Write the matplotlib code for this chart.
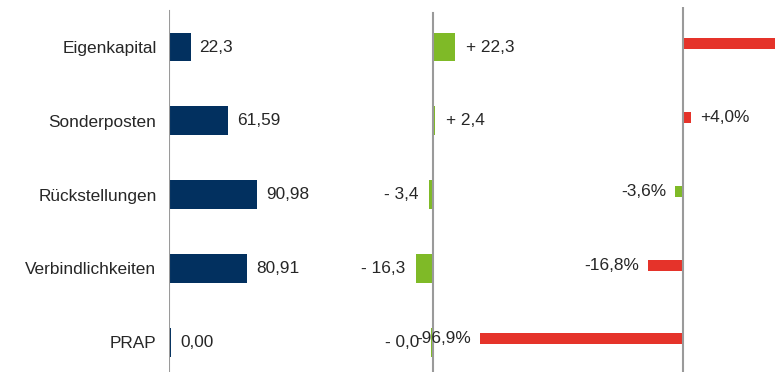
import matplotlib.pyplot as plt

plt.rcParams['font.family'] = ['Liberation Sans', 'DejaVu Sans']

# Passiva: Bestand, Veraenderung absolut und prozentual
kategorien = ["Eigenkapital", "Sonderposten", "Rückstellungen", "Verbindlichkeiten", "PRAP"]
bestand = [22.3, 61.59, 90.98, 80.91, 0.00]
bestand_txt = ["22,3", "61,59", "90,98", "80,91", "0,00"]
veraenderung = [22.3, 2.4, -3.4, -16.3, -0.04]
veraenderung_txt = ["+ 22,3", "+ 2,4", "- 3,4", "- 16,3", "- 0,0"]
prozent = [100.0, 4.0, -3.6, -16.8, -96.9]
prozent_txt = ["", "+4,0%", "-3,6%", "-16,8%", "-96,9%"]

NAVY = "#02305f"
GRUEN = "#7fba27"
ROT = "#e5332a"
ACHSE = "#9a9a9a"
TEXT = "#262626"
FS = 12.4

W, H = 775, 372
fig = plt.figure(figsize=(W / 100, H / 100), dpi=100)

# Zeilenraster in Pixeln
y_top, y_bot = 7, 372
row0, step = 47, 73.8
ylim = (4 + (y_bot - (row0 + 4 * step)) / step, -(row0 - y_top) / step)


def achsen(x0, x1, null_px, px_pro_einheit):
    ax = fig.add_axes([x0 / W, 1 - y_bot / H, (x1 - x0) / W, (y_bot - y_top) / H])
    ax.set_xlim(-(null_px - x0) / px_pro_einheit, (x1 - null_px) / px_pro_einheit)
    ax.set_ylim(*ylim)
    ax.patch.set_visible(False)
    for s in ax.spines.values():
        s.set_visible(False)
    ax.set_xticks([])
    ax.set_yticks([])
    return ax


def breiten(werte, px_pro_einheit, min_px=2):
    # sehr kleine Werte mit Mindestbreite, damit der Balken sichtbar bleibt
    out = []
    for v in werte:
        b = max(abs(v), min_px / px_pro_einheit)
        out.append(b if v >= 0 else -b)
    return out


def beschriften(ax, werte, texte, ypos, abstand_px, px_pro_einheit):
    d = abstand_px / px_pro_einheit
    for v, t, y in zip(werte, texte, ypos):
        if v >= 0:
            ax.text(v + d, y, t, ha="left", va="center", fontsize=FS, color=TEXT, clip_on=False)
        else:
            ax.text(v - d, y, t, ha="right", va="center", fontsize=FS, color=TEXT, clip_on=False)


pos = list(range(len(kategorien)))

# links: Bestand
s1 = 0.965
ax1 = achsen(169, 335, 169, s1)
ax1.barh(pos, breiten(bestand, s1), height=0.39, color=NAVY)
ax1.axvline(0, color=ACHSE, lw=1.5, ymax=1 - 4 / (y_bot - y_top))
ax1.set_yticks(pos)
ax1.set_yticklabels(kategorien, fontsize=FS, color=TEXT)
ax1.tick_params(axis="y", length=0, pad=9)
beschriften(ax1, [max(v, 2 / s1) for v in bestand], bestand_txt, pos, 9, s1)

# Mitte: Veraenderung absolut
s2 = 1.0
ax2 = achsen(340, 560, 432.5, s2)
ax2.barh(pos, breiten(veraenderung, s2), height=0.39, color=GRUEN)
ax2.axvline(0, color=ACHSE, lw=1.5, ymax=1 - 6 / (y_bot - y_top))
beschriften(ax2, breiten(veraenderung, s2), veraenderung_txt, pos, 11, s2)

# rechts: Veraenderung in Prozent
s3 = 2.1
ax3 = achsen(470, 775, 683, s3)
pos3 = [p - 0.045 for p in pos]
farben = [GRUEN if v < 0 and abs(v) < 10 else ROT for v in prozent]
ax3.barh(pos3, prozent, height=0.15, color=farben)
ax3.axvline(0, color=ACHSE, lw=1.5)
beschriften(ax3, prozent, prozent_txt, pos3, 9, s3)

fig.savefig("out.png", dpi=100)
